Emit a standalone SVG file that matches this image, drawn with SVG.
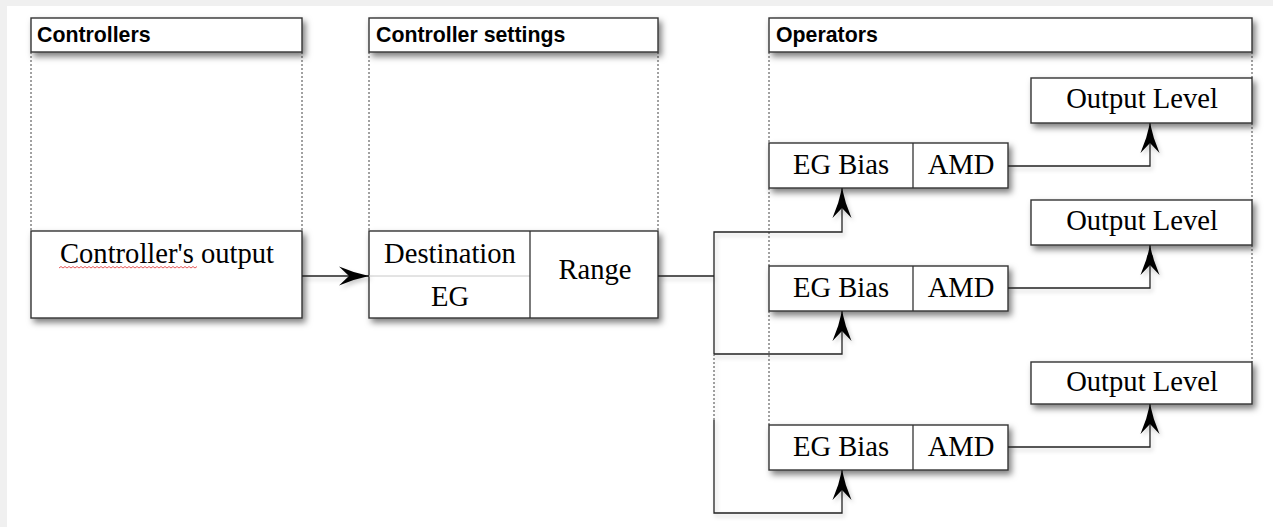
<svg xmlns="http://www.w3.org/2000/svg" width="1273" height="527" viewBox="0 0 1273 527">
<style>
.box{fill:#fff;stroke:#333;stroke-width:1.4;filter:url(#sh)}
.div{fill:none;stroke:#333;stroke-width:1.3}
.dot{fill:none;stroke:#444;stroke-width:1;stroke-dasharray:2,2}
.hd{font-family:"Liberation Sans",Arial,sans-serif;font-weight:bold;font-size:21.3px;fill:#000}
.tx{font-family:"Liberation Serif","Times New Roman",serif;font-size:28.6px;fill:#000;text-anchor:middle}
.cn{fill:none;stroke:#222;stroke-width:1.3}
</style>
<defs>
<filter id="sh" x="-10%" y="-20%" width="130%" height="160%">
<feDropShadow dx="3" dy="4" stdDeviation="3" flood-color="#000" flood-opacity="0.5"/>
</filter>
<filter id="lsh" x="-10%" y="-10%" width="130%" height="130%">
<feDropShadow dx="2" dy="3" stdDeviation="2" flood-color="#000" flood-opacity="0.2"/>
</filter>
<marker id="ah" viewBox="-31 -10 32 20" refX="0" refY="0" markerWidth="32" markerHeight="20" markerUnits="userSpaceOnUse" orient="auto">
<path d="M0,0 Q-15,-3 -30,-9.5 L-20,0 L-30,9.5 Q-15,3 0,0 Z" fill="#000"/>
</marker>
</defs>
<rect x="0" y="0" width="1273" height="527" fill="#f0f0f0"/>
<rect x="7" y="6" width="1266" height="521" fill="#fff"/>

<g id="lanes">
<path class="dot" d="M31,52 V231 M302,52 V231 M369,52 V231 M658,52 V231 M769,52 V143 M769,188 V266 M769,311 V425 M1252,52 V78 M1252,123 V200 M1252,245 V362"/>
</g>

<g id="hdr-controllers">
<rect class="box" x="31" y="18" width="271" height="34"/>
<text class="hd" x="37" y="42">Controllers</text>
</g>
<g id="hdr-settings">
<rect class="box" x="369" y="18" width="289" height="34"/>
<text class="hd" x="376" y="42">Controller settings</text>
</g>
<g id="hdr-operators">
<rect class="box" x="769" y="18" width="483" height="34"/>
<text class="hd" x="776" y="42">Operators</text>
</g>

<g id="controllers-output">
<rect class="box" x="31" y="231" width="271" height="87"/>
<text class="tx" x="167" y="263">Controller's output</text>
<path d="M59,268 l2,-1.5 l2,1.5 l2,-1.5 l2,1.5 l2,-1.5 l2,1.5 l2,-1.5 l2,1.5 l2,-1.5 l2,1.5 l2,-1.5 l2,1.5 l2,-1.5 l2,1.5 l2,-1.5 l2,1.5 l2,-1.5 l2,1.5 l2,-1.5 l2,1.5 l2,-1.5 l2,1.5 l2,-1.5 l2,1.5 l2,-1.5 l2,1.5 l2,-1.5 l2,1.5 l2,-1.5 l2,1.5 l2,-1.5 l2,1.5 l2,-1.5 l2,1.5 l2,-1.5 l2,1.5 l2,-1.5 l2,1.5 l2,-1.5 l2,1.5 l2,-1.5 l2,1.5 l2,-1.5 l2,1.5 l2,-1.5 l2,1.5 l2,-1.5 l2,1.5 l2,-1.5 l2,1.5 l2,-1.5 l2,1.5 l2,-1.5 l2,1.5 l2,-1.5 l2,1.5 l2,-1.5 l2,1.5 l2,-1.5 l2,1.5 l2,-1.5 l2,1.5 l2,-1.5 l2,1.5 l2,-1.5 l2,1.5 l2,-1.5 l2,1.5 l2,-1.5" fill="none" stroke="#e03030" stroke-width="0.8"/>
</g>

<g id="controller-settings">
<rect class="box" x="369" y="231" width="289" height="87"/>
<line x1="369" y1="276" x2="530" y2="276" stroke="#c8c8c8" stroke-width="1"/>
<line class="div" x1="530" y1="231" x2="530" y2="318"/>
<text class="tx" x="450" y="263">Destination</text>
<text class="tx" x="450" y="306">EG</text>
<text class="tx" x="595" y="279">Range</text>
</g>

<g id="op1">
<rect class="box" x="769" y="143" width="239" height="45"/>
<line class="div" x1="913" y1="143" x2="913" y2="188"/>
<text class="tx" x="841" y="174">EG Bias</text>
<text class="tx" x="961" y="174">AMD</text>
</g>
<g id="op2">
<rect class="box" x="769" y="266" width="239" height="45"/>
<line class="div" x1="913" y1="266" x2="913" y2="311"/>
<text class="tx" x="841" y="297">EG Bias</text>
<text class="tx" x="961" y="297">AMD</text>
</g>
<g id="op3">
<rect class="box" x="769" y="425" width="239" height="45"/>
<line class="div" x1="913" y1="425" x2="913" y2="470"/>
<text class="tx" x="841" y="456">EG Bias</text>
<text class="tx" x="961" y="456">AMD</text>
</g>

<g id="out1">
<rect class="box" x="1031" y="78" width="221" height="45"/>
<text class="tx" x="1142" y="108">Output Level</text>
</g>
<g id="out2">
<rect class="box" x="1031" y="200" width="221" height="45"/>
<text class="tx" x="1142" y="230">Output Level</text>
</g>
<g id="out3">
<rect class="box" x="1031" y="362" width="221" height="42"/>
<text class="tx" x="1142" y="391">Output Level</text>
</g>

<g id="connectors" filter="url(#lsh)">
<path class="cn" d="M302,276 H369" marker-end="url(#ah)"/>
<path class="cn" d="M658,276 H714"/>
<path class="cn" d="M714,354 V232 H842 V188" marker-end="url(#ah)"/>
<path class="cn" d="M714,354 H842 V311" marker-end="url(#ah)"/>
<path class="dot" d="M714,354 V420"/>
<path class="cn" d="M714,420 V513 H842 V470" marker-end="url(#ah)"/>
<path class="cn" d="M1008,166 H1150 V123" marker-end="url(#ah)"/>
<path class="cn" d="M1008,288 H1150 V245" marker-end="url(#ah)"/>
<path class="cn" d="M1008,447 H1150 V404" marker-end="url(#ah)"/>
</g>
</svg>
